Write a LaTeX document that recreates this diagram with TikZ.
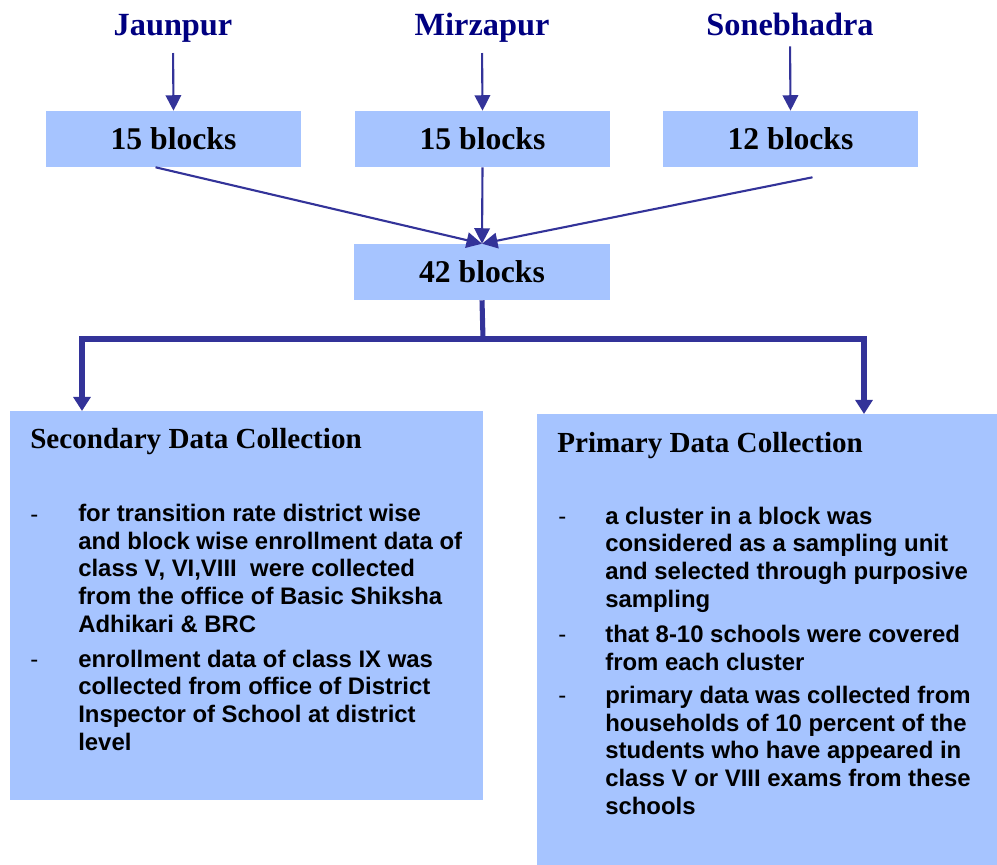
\documentclass[tikz,border=0pt]{standalone}
\usepackage{fontspec}
\setmainfont{Liberation Serif}
\setsansfont{Liberation Sans}
\usetikzlibrary{arrows.meta}
\definecolor{boxblue}{RGB}{166,196,255}
\definecolor{linkblue}{RGB}{51,51,153}
\definecolor{navyname}{RGB}{0,0,128}
\tikzset{
  district/.style={font=\bfseries\fontsize{23}{26}\selectfont, text=navyname, inner sep=0pt, anchor=base},
  blockbox/.style={fill=boxblue, minimum width=6.375cm, minimum height=1.4cm, inner sep=0pt, font=\bfseries\fontsize{22.5}{26}\selectfont},
  thinlink/.style={draw=linkblue, line width=1.5pt, -{Triangle[width=11pt,length=11pt]}},
  thickline/.style={draw=linkblue, line width=3.6pt},
  thicklink/.style={thickline, -{Triangle[width=12pt,length=10pt]}},
  groupbox/.style={fill=boxblue, anchor=north west, inner sep=0pt},
  grouphead/.style={font=\bfseries\fontsize{20.7}{24}\selectfont, anchor=base west, inner sep=0pt},
  itemtext/.style={font=\sffamily\bfseries\fontsize{17}{19.6}\selectfont, align=left, anchor=base west, inner sep=0pt},
  itemdash/.style={font=\sffamily\fontsize{17}{19.6}\selectfont, anchor=base west, inner sep=0pt},
}
\begin{document}
\begin{tikzpicture}[x=0.025cm, y=-0.025cm]
  \useasboundingbox (0,0) rectangle (997,865);
  % districts
  \node[district] (jaun) at (173,36) {Jaunpur};
  \node[district] (mirz) at (482,36) {Mirzapur};
  \node[district] (sone) at (790,36) {Sonebhadra};
  % blocks per district
  \node[blockbox] (jblk) at (173.5,139) {15 blocks};
  \node[blockbox] (mblk) at (482.5,139) {15 blocks};
  \node[blockbox] (sblk) at (790.5,139) {12 blocks};
  \node[blockbox] (sum) at (482,272) {42 blocks};
  \draw[thinlink, shorten <=7pt] (jaun.south) -- (jblk.north);
  \draw[thinlink, shorten <=7pt] (mirz.south) -- (mblk.north);
  \draw[thinlink, shorten <=7pt] (sone.south) -- (sblk.north);
  \draw[thinlink] ([xshift=-0.45cm]jblk.south) -- (sum.north);
  \draw[thinlink] (mblk.south) -- (sum.north);
  \draw[thinlink] ([xshift=0.55cm,yshift=-0.25cm]sblk.south) -- (sum.north);
  % two kinds of data
  \node[groupbox, minimum width=11.825cm, minimum height=9.725cm] (secbox) at (10,411) {};
  \node[groupbox, minimum width=11.5cm, minimum height=11.275cm] (pribox) at (537,414) {};
  \coordinate (split) at (483,339);
  \coordinate (secin) at (82,411);
  \coordinate (priin) at (864,414);
  \draw[thickline] (sum.south) -- (split);
  \draw[thicklink] (split) -| (secin);
  \draw[thicklink] (split) -| (priin);
  % secondary (items sit on their last baseline)
  \node[grouphead] (sechead) at (30,448) {Secondary Data Collection};
  \node[itemdash] (secdash1) at (30,522) {-};
  \node[itemtext] (secitem1) at (78,632) {for transition rate district wise\\and block wise enrollment data of\\class V, VI,VIII~~were collected\\from the office of Basic Shiksha\\Adhikari \& BRC};
  \node[itemdash] (secdash2) at (30,667) {-};
  \node[itemtext] (secitem2) at (78,750) {enrollment data of class IX was\\collected from office of District\\Inspector of School at district\\level};
  % primary
  \node[grouphead] (prihead) at (557,452) {Primary Data Collection};
  \node[itemdash] (pridash1) at (558,524) {-};
  \node[itemtext] (priitem1) at (605,607) {a cluster in a block was\\considered as a sampling unit\\and selected through purposive\\sampling};
  \node[itemdash] (pridash2) at (558,642) {-};
  \node[itemtext] (priitem2) at (605,670) {that 8-10 schools were covered\\from each cluster};
  \node[itemdash] (pridash3) at (558,703) {-};
  \node[itemtext] (priitem3) at (605,814) {primary data was collected from\\households of 10 percent of the\\students who have appeared in\\class V or VIII exams from these\\schools};
\end{tikzpicture}
\end{document}
